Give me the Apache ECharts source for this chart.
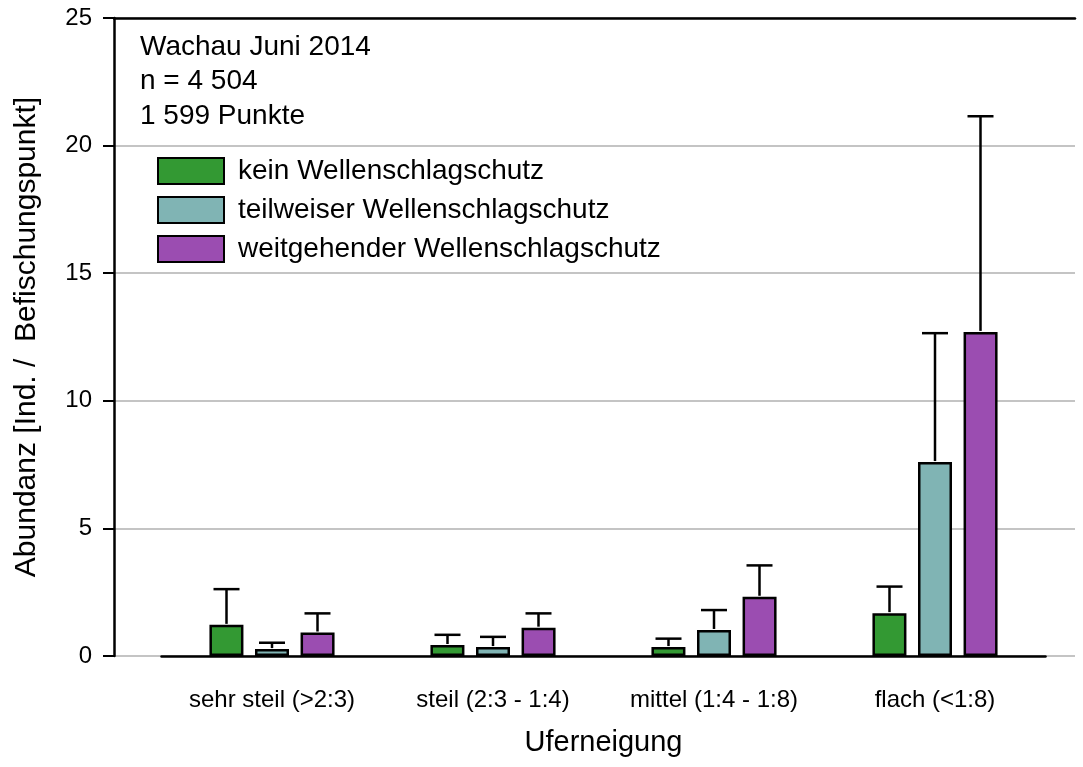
<!DOCTYPE html>
<html>
<head>
<meta charset="utf-8">
<script src="https://cdn.jsdelivr.net/npm/echarts@6/dist/echarts.min.js"></script>
<style>html,body{margin:0;padding:0;background:#fff}#c{width:1083px;height:767px}</style>
</head>
<body>
<div id="c"></div>
<script>
const categories = ['sehr steil (>2:3)', 'steil (2:3 - 1:4)', 'mittel (1:4 - 1:8)', 'flach (<1:8)'];
const seriesNames = ['kein Wellenschlagschutz', 'teilweiser Wellenschlagschutz', 'weitgehender Wellenschlagschutz'];
const keinMean = [1.22, 0.43, 0.35, 1.68];
const keinErr = [1.40, 0.40, 0.33, 1.04];
const teilMean = [0.27, 0.35, 1.02, 7.60];
const teilErr = [0.25, 0.40, 0.78, 5.05];
const weitMean = [0.92, 1.11, 2.32, 12.70];
const weitErr = [0.75, 0.56, 1.23, 8.45];
const yTicks = [0, 5, 10, 15, 20, 25];
const annotation = ['Wachau Juni 2014', 'n = 4 504', '1 599 Punkte'];
const yTitle = 'Abundanz [Ind. /  Befischungspunkt]';
const xTitle = 'Uferneigung';

const FONT = '"Liberation Sans", Arial, sans-serif';
const colors = ['#339933', '#80b4b4', '#9b4db1'];
const means = [keinMean, teilMean, weitMean];
const errs = [keinErr, teilErr, weitErr];
const BAR_W = 34, STEP = 45.5, CAP = 26;

const chart = echarts.init(document.getElementById('c'), null, {renderer: 'canvas'});

const series = [];
means.forEach((m, i) => {
  series.push({
    name: seriesNames[i], type: 'bar', xAxisIndex: 1, yAxisIndex: 1,
    data: m, barWidth: BAR_W, barGap: '34%',
    itemStyle: {color: colors[i], borderColor: '#000', borderWidth: 2.5},
    emphasis: {disabled: true}, z: 3
  });
});
means.forEach((m, i) => {
  series.push({
    type: 'custom', xAxisIndex: 1, yAxisIndex: 1, z: 4, silent: true,
    data: m.map((v, k) => [k, v, v + errs[i][k]]),
    renderItem: function (params, api) {
      const base = api.coord([api.value(0), api.value(1)]);
      const top = api.coord([api.value(0), api.value(2)]);
      const x = base[0] + (i - 1) * STEP;
      return {
        type: 'group',
        children: [
          {type: 'line', shape: {x1: x, y1: base[1] - 1, x2: x, y2: top[1]}, style: {stroke: '#000', lineWidth: 2.5}},
          {type: 'line', shape: {x1: x - CAP / 2, y1: top[1], x2: x + CAP / 2, y2: top[1]}, style: {stroke: '#000', lineWidth: 2.5}}
        ]
      };
    }
  });
});

const option = {
  animation: false,
  backgroundColor: '#fff',
  textStyle: {fontFamily: FONT},
  grid: [
    {left: 114, right: 8, top: 18, bottom: 111},
    {left: 161.5, right: 37.5, top: 18, bottom: 111}
  ],
  legend: {
    data: seriesNames, orient: 'vertical', left: 157, top: 157, padding: 0,
    itemWidth: 66, itemHeight: 26, itemGap: 11, selectedMode: false,
    icon: 'rect',
    itemStyle: {borderColor: '#000', borderWidth: 2},
    textStyle: {fontFamily: FONT, fontSize: 28, lineHeight: 26, color: '#000', padding: [0, 0, 0, 9]}
  },
  xAxis: [
    {type: 'value', gridIndex: 0, show: false, min: 0, max: 1},
    {type: 'category', gridIndex: 1, data: categories,
     axisLine: {lineStyle: {color: '#000', width: 2.5}},
     axisTick: {alignWithLabel: true, length: 12, lineStyle: {color: '#000', width: 2}},
     axisLabel: {color: '#000', fontSize: 24, margin: 32, fontFamily: FONT},
     name: xTitle, nameLocation: 'middle', nameGap: 72,
     nameTextStyle: {color: '#000', fontSize: 29, fontFamily: FONT}},
    {type: 'value', gridIndex: 0, position: 'top', min: 0, max: 1,
     axisLine: {show: true, lineStyle: {color: '#000', width: 2.5}},
     axisTick: {show: false}, axisLabel: {show: false}, splitLine: {show: false}}
  ],
  yAxis: [
    {type: 'value', gridIndex: 0, min: 0, max: 25, interval: 5,
     axisLine: {show: true, lineStyle: {color: '#000', width: 2.5}},
     axisTick: {show: true, length: 11, lineStyle: {color: '#000', width: 2}},
     axisLabel: {color: '#000', fontSize: 24, margin: 22, fontFamily: FONT,
                 formatter: v => yTicks.includes(v) ? String(v) : ''},
     splitLine: {show: true, lineStyle: {color: '#c4c4c4', width: 2}},
     name: yTitle, nameLocation: 'middle', nameGap: 72, nameRotate: 90,
     nameTextStyle: {color: '#000', fontSize: 30, fontFamily: FONT}},
    {type: 'value', gridIndex: 1, min: 0, max: 25, interval: 5, show: false}
  ],
  graphic: annotation.map((t, k) => ({
    type: 'text', x: 140, y: 47 + k * 34.5, z: 10,
    style: {text: t, fontSize: 28, fontFamily: FONT, fill: '#000', verticalAlign: 'middle'}
  })),
  series: series
};
chart.setOption(option);
</script>
</body>
</html>
